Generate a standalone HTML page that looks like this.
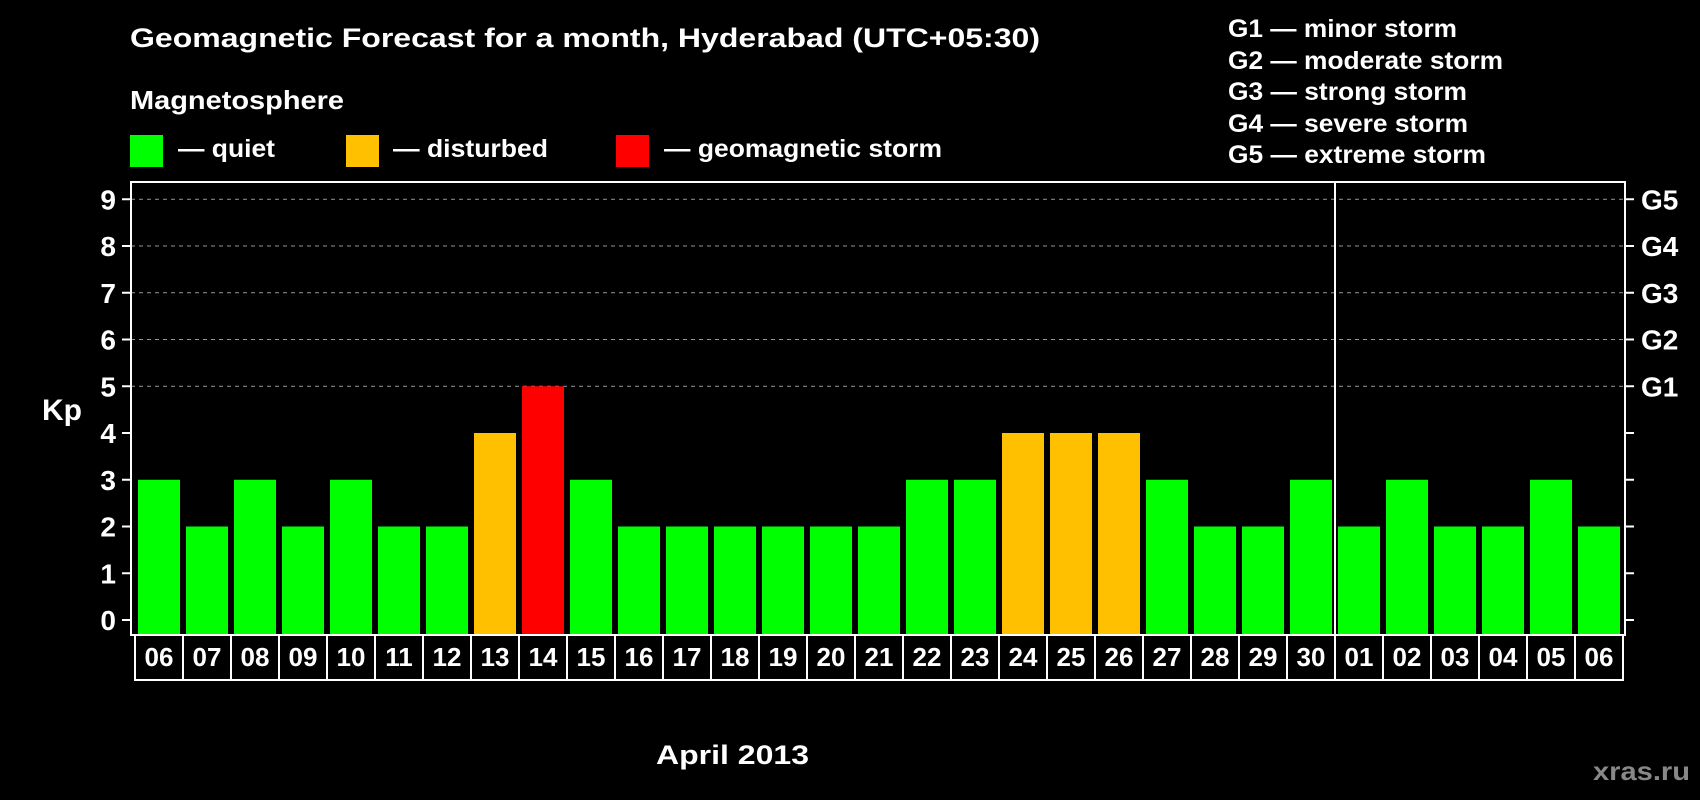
<!DOCTYPE html>
<html><head><meta charset="utf-8"><style>
html,body{margin:0;padding:0;background:#000;}
svg{display:block;font-family:"Liberation Sans",sans-serif;font-weight:bold;}
</style></head><body>
<svg id="chart" width="1700" height="800" viewBox="0 0 1700 800" xmlns="http://www.w3.org/2000/svg">
<rect width="1700" height="800" fill="#000"/>
<text x="130" y="47" font-size="27" fill="#fff" textLength="910" lengthAdjust="spacingAndGlyphs">Geomagnetic Forecast for a month, Hyderabad (UTC+05:30)</text>
<text x="130" y="109" font-size="26" fill="#fff" textLength="214" lengthAdjust="spacingAndGlyphs">Magnetosphere</text>
<rect x="130" y="135" width="33" height="32" fill="#00ff00"/>
<text x="178" y="157" font-size="25" fill="#fff" textLength="97" lengthAdjust="spacingAndGlyphs">— quiet</text>
<rect x="346" y="135" width="33" height="32" fill="#ffc000"/>
<text x="393" y="157" font-size="25" fill="#fff" textLength="155" lengthAdjust="spacingAndGlyphs">— disturbed</text>
<rect x="616" y="135" width="33" height="32" fill="#ff0000"/>
<text x="664" y="157" font-size="25" fill="#fff" textLength="278" lengthAdjust="spacingAndGlyphs">— geomagnetic storm</text>
<g font-size="25" fill="#fff" lengthAdjust="spacingAndGlyphs">
<text x="1228" y="37" textLength="229" lengthAdjust="spacingAndGlyphs">G1 — minor storm</text>
<text x="1228" y="69" textLength="275" lengthAdjust="spacingAndGlyphs">G2 — moderate storm</text>
<text x="1228" y="100" textLength="239" lengthAdjust="spacingAndGlyphs">G3 — strong storm</text>
<text x="1228" y="132" textLength="240" lengthAdjust="spacingAndGlyphs">G4 — severe storm</text>
<text x="1228" y="163" textLength="258" lengthAdjust="spacingAndGlyphs">G5 — extreme storm</text>
</g>
<text x="42" y="420" font-size="30" fill="#fff">Kp</text>
<text x="656" y="764" font-size="27" fill="#fff" textLength="153" lengthAdjust="spacingAndGlyphs">April 2013</text>
<text x="1690" y="780" font-size="26" fill="#888" text-anchor="end" textLength="97" lengthAdjust="spacingAndGlyphs">xras.ru</text>
<g id="plot"></g>
</svg>
<script>
const days = ["06","07","08","09","10","11","12","13","14","15","16","17","18","19","20","21","22","23","24","25","26","27","28","29","30","01","02","03","04","05","06"];
const kpValues = [3,2,3,2,3,2,2,4,5,3,2,2,2,2,2,2,3,3,4,4,4,3,2,2,3,2,3,2,2,3,2];
const yTicks = [0,1,2,3,4,5,6,7,8,9];
const gLabels = ["G1","G2","G3","G4","G5"];
const gLevels = [5,6,7,8,9];
const monthBreakIndex = 25;

const NS = "http://www.w3.org/2000/svg";
const plot = document.getElementById("plot");
const L = 131, R = 1625, T = 182, B = 635;
const y0 = 620, unit = 46.75;
const x0 = 135, pitch = 48;
function yScale(v){ return y0 - v*unit; }
function xScale(i){ return x0 + i*pitch; }
function mk(tag, attrs){ const e=document.createElementNS(NS,tag); for(const k in attrs) e.setAttribute(k,attrs[k]); plot.appendChild(e); return e; }
function color(v){ return v>=5 ? "#ff0000" : (v>=4 ? "#ffc000" : "#00ff00"); }

gLevels.forEach((lv,i)=>{
  const g = mk("line",{x1:L,x2:R,y1:yScale(lv),y2:yScale(lv),stroke:"#999","stroke-width":1,"stroke-dasharray":"4,4"});
  
  
});
kpValues.forEach((v,i)=>{
  const r = mk("rect",{x:xScale(i)+3,y:yScale(v),width:42,height:B-yScale(v),fill:color(v)});
  
  
});
const dv = mk("line",{x1:xScale(monthBreakIndex),x2:xScale(monthBreakIndex),y1:T,y2:B,stroke:"#fff","stroke-width":2});


const fr = mk("rect",{x:L,y:T,width:R-L,height:B-T,fill:"none",stroke:"#fff","stroke-width":2});


yTicks.forEach(t=>{
  const y = yScale(t);
  const tl = mk("line",{x1:122,x2:L,y1:y,y2:y,stroke:"#fff","stroke-width":2});
  
  
  const tr = mk("line",{x1:R,x2:R+9,y1:y,y2:y,stroke:"#fff","stroke-width":2});
  
  
  const tx = mk("text",{x:116,y:y+10,"font-size":28,fill:"#fff","text-anchor":"end"});
  tx.textContent = t;
  
  
});
gLabels.forEach((g,i)=>{
  const tx = mk("text",{x:1641,y:yScale(gLevels[i])+10,"font-size":28,fill:"#fff"});
  tx.textContent = g;
  
  
});
days.forEach((d,i)=>{
  const bx = mk("rect",{x:xScale(i),y:B,width:pitch,height:45,fill:"none",stroke:"#fff","stroke-width":2});
  
  
  const tx = mk("text",{x:xScale(i)+pitch/2,y:666,"font-size":26,fill:"#fff","text-anchor":"middle"});
  tx.textContent = d;
  
  
});
</script>
</body></html>
